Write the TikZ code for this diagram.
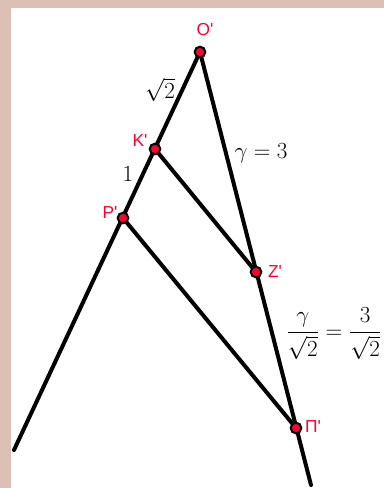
\documentclass[tikz,border=0pt]{standalone}
\usepackage{amsmath}
\usepackage{fontspec}
\usepackage{tikz}
\usetikzlibrary{positioning, calc}
\newfontfamily\lblfont{Liberation Sans}[Ligatures=TeXOff]
\definecolor{ggred}{HTML}{FF0033}
\definecolor{paperpink}{HTML}{DDC0B5}

\begin{document}
\begin{tikzpicture}[
  x=0.75pt, y=-0.75pt,
  seg/.style={line width=3pt, line cap=round},
  pt/.style={circle, draw=black, fill=ggred, line width=1.5pt,
    minimum size=8pt, inner sep=0pt},
  ptlabel/.style={font=\lblfont\fontsize{13}{15}\selectfont, text=ggred, inner sep=0pt},
  meas/.style={font=\fontsize{16}{19}\selectfont, inner sep=0pt},
]

% background
\fill[paperpink] (0,0) rectangle (384,488);
\fill[white] (11,8) rectangle (384,488);
\useasboundingbox (0,0) rectangle (384,488);

% points
\coordinate (O) at (200,52);
\coordinate (K) at (155,149);
\coordinate (P) at (123,218);
\coordinate (Z) at (256,272);
\coordinate (Pi) at (296,428);
\coordinate (endL) at (14,450);
\coordinate (endR) at (311,485);

% lines
\draw[seg] (O) -- (endL);
\draw[seg] (O) -- (endR);
\draw[seg] (K) -- (Z);
\draw[seg] (P) -- (Pi);

% dots
\node[pt] (dO) at (O) {};
\node[pt] (dK) at (K) {};
\node[pt] (dP) at (P) {};
\node[pt] (dZ) at (Z) {};
\node[pt] (dPi) at (Pi) {};

% point labels
\node[ptlabel] (lO) at (205,30) {O'};
\node[ptlabel] (lK) at (140,141) {K'};
\node[ptlabel] (lP) at (110,213) {P'};
\node[ptlabel] (lZ) at (275,272) {Z'};
\node[ptlabel] (lPi) at (313,427) {Π'};

% lengths
\node[meas] (mOK) at (160,90) {$\sqrt{2}$};
\node[meas] (mKP) at (128,174) {$1$};
\node[meas] (mOZ) at (261,153) {$\gamma=3$};
\node[meas] (mZPi) at (334,334) {$\dfrac{\gamma}{\sqrt{2}}=\dfrac{3}{\sqrt{2}}$};

\end{tikzpicture}
\end{document}
